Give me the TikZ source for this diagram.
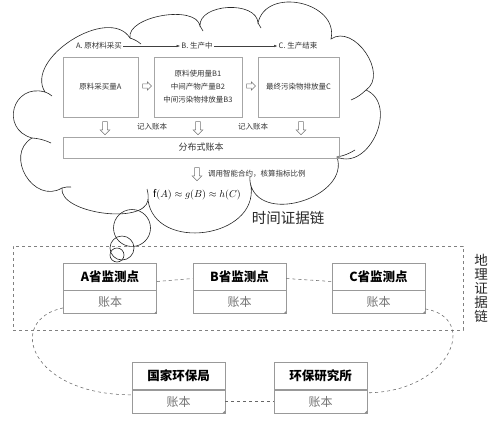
\documentclass[tikz,border=0pt]{standalone}
\usepackage{fontspec}
\setmainfont{Noto Sans CJK SC}
\usetikzlibrary{arrows.meta, positioning, shapes.arrows}

\begin{document}
\begin{tikzpicture}[
    x=1pt, y=-1pt, font=\fontsize{7.5}{9}\selectfont,
    cloudline/.style={line width=0.6pt, black!85},
    stagebox/.style={draw=black!35, line width=0.6pt, minimum height=60pt, align=center, inner sep=0pt, text=black!80},
    stage/.style={inner sep=1pt, text=black!80},
    flow/.style={-{Latex[length=3.5pt,width=2.5pt]}, line width=0.5pt, black!75},
    hollow/.style={single arrow, draw=black!55, line width=0.5pt, inner sep=2.2pt, single arrow head extend=2.3pt},
    hollowdown/.style={hollow, shape border rotate=270, minimum height=13pt},
    hollowright/.style={hollow, inner sep=1.8pt, single arrow head extend=2pt, minimum height=9pt},
    note/.style={inner sep=1pt, text=black!80},
    site/.style={draw=black!40, line width=0.6pt, minimum width=93pt, minimum height=27pt, inner sep=0pt, font=\fontsize{12.5}{14}\bfseries, text=black},
    book/.style={draw=black!40, line width=0.6pt, minimum width=93pt, minimum height=23pt, inner sep=0pt, font=\fontsize{12}{14}\selectfont, text=black!55},
    link/.style={dashed, line width=0.55pt, black!60},
    bubble/.style={line width=0.6pt, black!85}
]
    \useasboundingbox (0,0) rectangle (500,424);

    \draw[cloudline] (45,92) to[bend left=90, looseness=1.0] (130,38)
        to[bend left=90, looseness=0.8] (200,26)
        to[bend left=90, looseness=1.0] (258,23)
        to[bend left=90, looseness=1.3] (331,39)
        to[bend left=90, looseness=1.15] (366,90)
        to[bend left=90, looseness=1.25] (337,157)
        to[bend left=90, looseness=1.15] (251,186)
        to[bend left=90, looseness=1.3] (148,200)
        to[bend left=90, looseness=0.75] (62,188)
        to[bend left=90, looseness=1.45] (32,138)
        to[bend left=90, looseness=1.8] (45,92);
    \draw[cloudline] (130,38) to[bend left=10] (141,44);
    \draw[cloudline] (200,26) to[bend left=10] (203,31);
    \draw[cloudline] (258,23) to[bend left=10] (261,28);
    \draw[cloudline] (366,90) to[bend left=10] (351,100);
    \draw[cloudline] (337,157) to[bend right=10] (355,150);
    \draw[cloudline] (251,186) to[bend left=10] (250,176);
    \draw[cloudline] (148,200) to[bend right=10] (147,189);
    \draw[cloudline] (62,188) to[bend left=10] (71,187);
    \draw[cloudline] (32,138) to[bend left=10] (51,143);
    \draw[cloudline] (45,92) to[bend left=10] (52,96);
    \draw[bubble] (132,228) circle (18.5);
    \draw[bubble] (122,248) circle (12);
    \draw[bubble] (117,255) circle (7);

    \node[stage] (sa) at (99,46) {A. 原材料采买};
    \node[stage] (sb) at (197,46) {B. 生产中};
    \node[stage] (sc) at (298,46) {C. 生产结束};
    \draw[flow] (sa.east) -- (sb.west);
    \draw[flow] (sb.east) -- (sc.west);

    \node[stagebox, minimum width=75pt] (qa) at (100.5,87) {原料采买量A};
    \node[stagebox, minimum width=88pt] (qb) at (198,87) {原料使用量B1\\[4pt]中间产物产量B2\\[4pt]中间污染物排放量B3};
    \node[stagebox, minimum width=81pt] (qc) at (298.5,87) {最终污染物排放量C};
    \node[hollowright] (ra) at (146,86) {};
    \node[hollowright] (rb) at (250,86) {};

    \node[hollowdown] (da) at (105,127) {};
    \node[hollowdown] (db) at (198,127) {};
    \node[hollowdown] (dc) at (301,127) {};
    \node[note] (wa) at (152,127) {记入账本};
    \node[note] (wb) at (253,127) {记入账本};

    \node[stagebox, minimum width=276pt, minimum height=21pt, font=\fontsize{9}{11}\selectfont] (ledger) at (201,147.5) {分布式账本};
    \node[hollowdown] (dd) at (197,173) {};
    \node[note, anchor=west] (call) at (207,174) {调用智能合约，核算指标比例};
    \node (ratio) at (197,195) {\fontsize{10}{12}\selectfont $\mathrm{f}(A)\approx g(B)\approx h(C)$};
    \node[text=black!85, font=\fontsize{14.5}{16}\selectfont] (timechain) at (288,218) {时间证据链};

    \node[draw=black!50, dashed, line width=0.6pt, minimum width=450pt, minimum height=84pt] (geo) at (238,288) {};
    \node[align=center, text=black!85, font=\fontsize{13.5}{14}\selectfont] (geochain) at (481,288) {地\\理\\证\\据\\链};

    \node[site] (pa) at (110,276.5) {A省监测点};
    \node[book, below=0pt of pa] (pa-book) {账本};
    \node[site] (pb) at (239.5,276.5) {B省监测点};
    \node[book, below=0pt of pb] (pb-book) {账本};
    \node[site] (pc) at (378.5,276.5) {C省监测点};
    \node[book, below=0pt of pc] (pc-book) {账本};
    \node[site] (gj) at (178.5,376) {国家环保局};
    \node[book, below=0pt of gj] (gj-book) {账本};
    \node[site] (hb) at (320.5,376) {环保研究所};
    \node[book, below=0pt of hb] (hb-book) {账本};

    \foreach \n in {ledger, pa-book, pb-book, pc-book, gj-book, hb-book}
        \fill[black!45] ([xshift=-3pt]\n.south east) -- (\n.south east) -- ([yshift=3pt]\n.south east) -- cycle;

    \draw[link] ([yshift=-5pt]pa.east) -- ([yshift=-2pt]pb.west);
    \draw[link] ([yshift=-2pt]pb.east) -- ([yshift=-5pt]pc.west);
    \draw[link] ([yshift=6pt]pa-book.south west) .. controls (5,320) and (30,395) .. ([yshift=-5pt]gj.south west);
    \draw[link] ([yshift=5pt]pc-book.south east) .. controls (480,318) and (450,392) .. ([yshift=-3pt]hb.south east);
    \draw[link] (gj-book.east) -- (hb-book.west);
\end{tikzpicture}
\end{document}
